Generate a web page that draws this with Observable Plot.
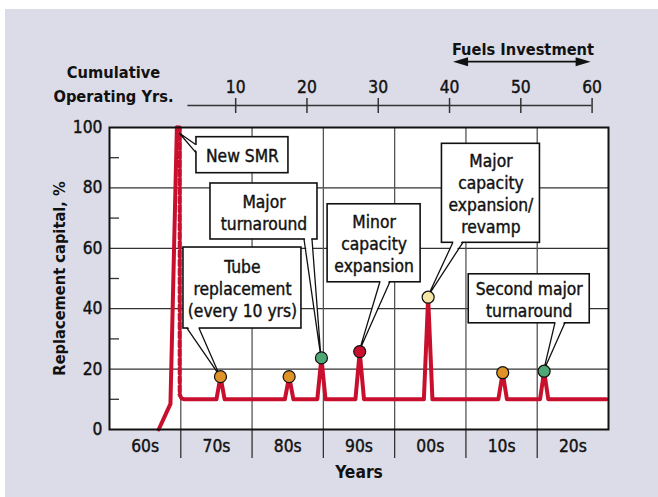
<!DOCTYPE html>
<html><head><meta charset="utf-8">
<script src="https://cdn.jsdelivr.net/npm/d3@7"></script>
<script src="https://cdn.jsdelivr.net/npm/@observablehq/plot@0.6"></script>
<style>
html,body{margin:0;padding:0;background:#fff;}
#chart{position:relative;width:658px;height:497px;overflow:hidden;}
#panel{position:absolute;left:5px;top:9px;width:653px;height:488px;background:#dcdce8;}
#chart svg{position:absolute;left:0;top:0;}
#chart svg g:not([font-weight="bold"]) > text{stroke:#111;stroke-width:0.4px;paint-order:stroke;}
</style></head><body><div id="chart"><div id="panel"></div></div>
<script>
// ---------- data ----------
const decadeLabels = ["60s","70s","80s","90s","00s","10s","20s"];
const decadeStarts = [1960,1970,1980,1990,2000,2010,2020];
const yTicks = [0,20,40,60,80,100];
const yGrid = [20,40,60,80];
const yMinorTicks = [10,30,50,70,90];
const cumTicks = [10,20,30,40,50,60];
const cumStartYear = 1967.7;      // year where cumulative operating years = 0
const topAxisStartCum = 3.3;
const fuelsRange = [40,60];

// startup ramp (solid), drop after startup (dashed), operating profile (solid)
const rampYears = [1966.9, 1968.55, 1969.45];
const rampValues = [0, 8.5, 100];
const dashYears = [1969.45, 1969.85, 1969.85];
const dashValues = [100, 100, 11.5];
const opYears = [1969.85, 1970.1, 1970.5, 1975.0, 1975.57, 1976.15, 1984.6, 1985.2, 1985.8, 1989.15, 1989.73, 1990.3, 1994.5, 1995.1, 1995.7, 2004.1, 2004.7, 2005.3, 2014.55, 2015.16, 2015.75, 2020.4, 2020.97, 2021.55, 2029.7];
const opValues = [11.5, 10.3, 10, 10, 17.5, 10, 10, 17.5, 10, 10, 23.7, 10, 10, 25.8, 10, 10, 43.8, 10, 10, 18.8, 10, 10, 19.3, 10, 10];

// events (dots)
const eventYears = [1975.57, 1985.2, 1989.73, 1995.1, 2004.7, 2015.16, 2020.97];
const eventValues = [17.5, 17.5, 23.7, 25.8, 43.8, 18.8, 19.3];
const eventKinds = ["tube","tube","turnaround","minor","major","tube","turnaround"];
const kindColor = {tube:"#df9228", turnaround:"#4ea874", minor:"#c8102e", major:"#f6e6a6"};

// callouts
const calloutText = ["New SMR", "Major\nturnaround", "Tube\nreplacement\n(every 10 yrs)", "Minor\ncapacity\nexpansion", "Major\ncapacity\nexpansion/\nrevamp", "Second major\nturnaround"];
const calloutTargetYear = [1969.85, 1989.73, 1975.57, 1995.1, 2004.7, 2020.97];
const calloutTargetValue = [98, 23.7, 17.5, 25.8, 43.8, 19.3];
// layout of callout boxes (center in data units, size/pointer base in px)
const calloutLayout = [
  {cx:1978.65, cy:90.83, w:92,  h:36, side:"left",   b:[-10,-2]},
  {cx:1981.67, cy:72.19, w:107, h:56, side:"bottom", b:[40.5,48.5]},
  {cx:1978.65, cy:46.85, w:118, h:81, side:"bottom", b:[-55,-43]},
  {cx:1997.12, cy:61.66, w:93,  h:78, side:"bottom", b:[6.3,16.3]},
  {cx:2013.51, cy:78.21, w:98,  h:99, side:"bottom", b:[-37.5,-27.5]},
  {cx:2018.88, cy:43.28, w:121, h:49, side:"bottom", b:[26.2,36.2]}
];

// ---------- fonts ----------
function hasFont(name){
  const c = document.createElement("canvas").getContext("2d");
  const t = "Cumulative Operating Yrs. 0123456789 Wm";
  let diff = false;
  for (const base of ["monospace","serif"]) {
    c.font = "40px " + base; const a = c.measureText(t).width;
    c.font = `40px "${name}", ${base}`; const b = c.measureText(t).width;
    if (Math.abs(a-b) > 0.5) diff = true;
  }
  return diff;
}
const narrow = ["Liberation Sans Narrow","Arial Narrow","DejaVu Sans Condensed","Roboto Condensed"].find(hasFont);
const FONT = narrow ? `"${narrow}", "Liberation Sans", sans-serif` : `"Liberation Sans", Arial, sans-serif`;
let FS = 16, FSB = 15.5;
if (narrow === "Liberation Sans Narrow" || narrow === "Arial Narrow") { FS = 19; FSB = 19; }
else if (narrow) { FS = 17.3; FSB = 16.3; }

// ---------- layout ----------
const W = 658, H = 497;
const mL = 109, mR = 50, mT = 127, mB = 68;
const plotW = W - mL - mR;
const xDomain = [decadeStarts[0], decadeStarts[decadeStarts.length-1] + 10];
const decadeMids = decadeStarts.map(d => d + 5);
const boundaries = decadeStarts.slice(1);
const idx = a => a.map((_, i) => i);

function callouts(index, scales, values, dims) {
  const g = d3.create("svg:g");
  calloutLayout.forEach((c, i) => {
    const cx = scales.x(c.cx), cy = scales.y(c.cy);
    const x0 = cx - c.w/2, y0 = cy - c.h/2;
    const tx = scales.x(calloutTargetYear[i]), ty = scales.y(calloutTargetValue[i]);
    g.append("rect").attr("x", x0).attr("y", y0).attr("width", c.w).attr("height", c.h)
      .attr("fill", "white").attr("stroke", "#111").attr("stroke-width", 1.6);
    let p1, p2, q1, q2;
    if (c.side === "bottom") {
      p1 = [cx + c.b[0], y0 + c.h]; p2 = [cx + c.b[1], y0 + c.h];
      q1 = [p1[0] + 0.8, p1[1] - 1.5]; q2 = [p2[0] - 0.8, p2[1] - 1.5];
    } else {
      p1 = [x0, cy + c.b[0]]; p2 = [x0, cy + c.b[1]];
      q1 = [p1[0] + 1.5, p1[1] + 0.8]; q2 = [p2[0] + 1.5, p2[1] - 0.8];
    }
    g.append("path").attr("d", `M${q1}L${q2}L${tx},${ty}Z`).attr("fill", "white");
    g.append("path").attr("d", `M${p1}L${tx},${ty}L${p2}`).attr("fill", "none")
      .attr("stroke", "#111").attr("stroke-width", 1.3).attr("stroke-linejoin", "miter");
  });
  return g.node();
}

function fuelsArrow(index, scales, values, dims) {
  const g = d3.create("svg:g");
  const xa = scales.x(cumStartYear + fuelsRange[0]) + 4;
  const xb = scales.x(cumStartYear + fuelsRange[1]) - 1;
  const y = dims.marginTop - 65.3;
  g.append("line").attr("x1", xa + 10).attr("x2", xb - 10).attr("y1", y).attr("y2", y)
    .attr("stroke", "#111").attr("stroke-width", 1.7);
  g.append("path").attr("d", `M${xa},${y}L${xa+15},${y-4.5}L${xa+15},${y+4.5}Z`).attr("fill", "#111");
  g.append("path").attr("d", `M${xb},${y}L${xb-15},${y-4.5}L${xb-15},${y+4.5}Z`).attr("fill", "#111");
  return g.node();
}

const RED = "#c8102e";

const plot = Plot.plot({
  width: W, height: H,
  marginLeft: mL, marginRight: mR, marginTop: mT, marginBottom: mB,
  x: {domain: xDomain, axis: null},
  y: {domain: [0, 100], axis: null},
  color: {type: "identity"},
  style: {background: "transparent", fontFamily: FONT, fontSize: FS + "px", overflow: "visible", color: "#111"},
  marks: [
    Plot.frame({fill: "white", stroke: "none"}),
    Plot.ruleY(yGrid, {stroke: "#333", strokeWidth: 1.2}),
    Plot.ruleX(boundaries, {stroke: "#555", strokeWidth: 1.3}),
    Plot.ruleY(yMinorTicks, {stroke: "#333", strokeWidth: 1.3, insetRight: plotW - 10}),
    Plot.axisY(yTicks, {tickSize: 0, tickPadding: 7, fontSize: FS, label: null}),
    Plot.axisX(boundaries, {tickSize: 29, tickFormat: () => "", stroke: "#333", strokeWidth: 1.3, label: null}),
    Plot.axisX(decadeMids, {tickSize: 0, tickPadding: 10, fontSize: FS, label: null,
      tickFormat: d => decadeLabels[decadeMids.indexOf(d)]}),
    // top axis: cumulative operating years
    Plot.ruleY([100], {x1: cumStartYear + topAxisStartCum, x2: cumStartYear + cumTicks[cumTicks.length-1], dy: -22, stroke: "#333", strokeWidth: 1.5}),
    Plot.axisX(cumTicks.map(c => cumStartYear + c), {anchor: "top", tickSize: 15, dy: -15, tickPadding: 5,
      fontSize: FS, label: null, stroke: "#333", strokeWidth: 1.5,
      tickFormat: d => String(Math.round(d - cumStartYear))}),
    // profile lines
    Plot.line(idx(rampYears), {x: i => rampYears[i], y: i => rampValues[i], stroke: RED, strokeWidth: 4}),
    Plot.line(idx(dashYears), {x: i => dashYears[i], y: i => dashValues[i], stroke: RED, strokeWidth: 4, strokeDasharray: "6,3"}),
    Plot.line(idx(opYears), {x: i => opYears[i], y: i => opValues[i], stroke: RED, strokeWidth: 4, strokeLinejoin: "round"}),
    // callouts
    callouts,
    Plot.text(idx(calloutText), {x: i => calloutLayout[i].cx, y: i => calloutLayout[i].cy,
      text: i => calloutText[i], fontSize: FS, lineHeight: 1.27, fill: "#111"}),
    // event dots
    Plot.dot(idx(eventYears), {x: i => eventYears[i], y: i => eventValues[i], r: 6,
      fill: i => kindColor[eventKinds[i]], stroke: "#111", strokeWidth: 1.2}),
    Plot.frame({stroke: "#111", strokeWidth: 2}),
    // titles
    Plot.text(["Replacement capital, %"], {text: d => d, frameAnchor: "left", textAnchor: "middle", dx: -50, rotate: -90,
      fontWeight: "bold", fontSize: FSB, fill: "#111"}),
    Plot.text(["Years"], {text: d => d, frameAnchor: "bottom", dy: 48, fontWeight: "bold", fontSize: FSB + 1, fill: "#111"}),
    Plot.text(["Cumulative\nOperating Yrs."], {text: d => d, frameAnchor: "top-left", dx: 4, dy: -45,
      lineAnchor: "middle", textAnchor: "middle", lineHeight: 1.45, fontWeight: "bold", fontSize: FSB, fill: "#111"}),
    Plot.text(["Fuels Investment"], {text: d => d, x: cumStartYear + (fuelsRange[0] + fuelsRange[1]) / 2 + 0.3,
      frameAnchor: "top", dy: -84, fontWeight: "bold", fontSize: FSB, fill: "#111"}),
    fuelsArrow
  ]
});
document.getElementById("chart").appendChild(plot);
</script>
</body></html>
